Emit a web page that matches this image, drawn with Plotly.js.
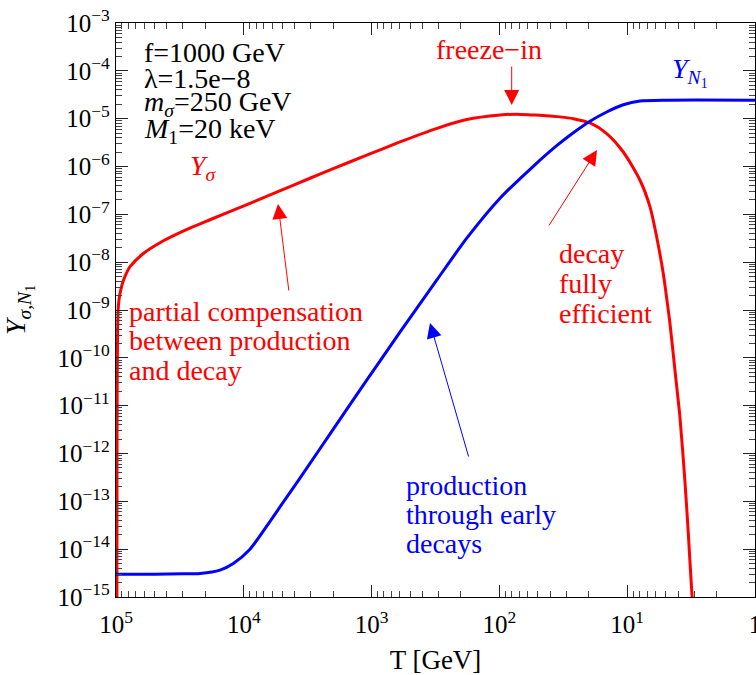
<!DOCTYPE html>
<html>
<head>
<meta charset="utf-8">
<script src="https://cdn.plot.ly/plotly-3.0.1.min.js"></script>
<style>html,body{margin:0;padding:0;background:#fff;}#chart{width:756px;height:675px;}</style>
</head>
<body>
<div id="chart"></div>
<script>
// ---- data ----
const T_sigma = [98400, 98220, 97860, 97160, 95940, 93890, 90250, 87680, 82480, 77700, 61150, 45270, 33500, 24850, 18390, 10090, 5527, 3034, 1995, 1092, 600, 329, 180, 98.9, 73.2, 54.3, 48.2, 33.6, 26.4, 19.55, 14.47, 10.73, 7.94, 6.63, 5.88, 5.22, 4.91, 4.63, 4.23, 3.86, 3.53, 3.33, 3.13, 3.0];
const Y_sigma = [3.16e-16, 7.2e-13, 3.41e-11, 3.78e-10, 1.15e-9, 1.94e-9, 3.14e-9, 4.09e-9, 6.03e-9, 8.03e-9, 1.52e-8, 2.55e-8, 3.84e-8, 5.51e-8, 7.71e-8, 1.49e-7, 2.90e-7, 5.68e-7, 9.06e-7, 1.72e-6, 3.26e-6, 5.92e-6, 9.57e-6, 1.19e-5, 1.24e-5, 1.19e-5, 1.18e-5, 1.09e-5, 1.00e-5, 8.13e-6, 4.89e-6, 2.01e-6, 5.16e-7, 1.43e-7, 3.37e-8, 5.79e-9, 1.77e-9, 5.30e-10, 5.52e-11, 5.48e-12, 2.52e-13, 2.27e-14, 1.39e-15, 3.16e-16];

const T_N1 = [100000, 50000, 30000, 22010, 15360, 12080, 8944, 6619, 4909, 3634, 1994, 1092, 600, 309.6, 180, 98.9, 54.3, 35.6, 26.4, 19.55, 14.47, 10.73, 7.94, 4.91, 1];
const Y_N1 = [3.0e-15, 3.0e-15, 3.05e-15, 3.11e-15, 3.65e-15, 5.04e-15, 1.0e-14, 3.03e-14, 9.62e-14, 3.05e-13, 3.23e-12, 3.41e-11, 3.44e-10, 4.20e-9, 3.17e-8, 2.17e-7, 1.01e-6, 2.72e-6, 5.07e-6, 8.83e-6, 1.38e-5, 1.95e-5, 2.33e-5, 2.43e-5, 2.43e-5];

const xTickVals = [1e5, 1e4, 1e3, 1e2, 1e1, 1];
const xTickText = ['10<sup>5</sup>', '10<sup>4</sup>', '10<sup>3</sup>', '10<sup>2</sup>', '10<sup>1</sup>', '1'];
const yTickVals = [1e-3, 1e-4, 1e-5, 1e-6, 1e-7, 1e-8, 1e-9, 1e-10, 1e-11, 1e-12, 1e-13, 1e-14, 1e-15];
const yTickText = ['10<sup>−3</sup>', '10<sup>−4</sup>', '10<sup>−5</sup>', '10<sup>−6</sup>', '10<sup>−7</sup>', '10<sup>−8</sup>', '10<sup>−9</sup>', '10<sup>−10</sup>', '10<sup>−11</sup>', '10<sup>−12</sup>', '10<sup>−13</sup>', '10<sup>−14</sup>', '10<sup>−15</sup>'];

const paramLines = ['f=1000 GeV', 'λ=1.5e−8', '<i>m</i><sub><i>σ</i></sub>=250 GeV', '<i>M</i><sub>1</sub>=20 keV'];
const redNoteLines = ['partial compensation', 'between production', 'and decay'];
const decayLines = ['decay', 'fully', 'efficient'];
const blueNoteLines = ['production', 'through early', 'decays'];

// ---- minor tick positions (axis decoration) ----
function minorTicks(kFrom, kTo) {
  const v = [];
  for (let k = kFrom; k <= kTo; k++) for (let d = 2; d <= 9; d++) v.push(d * Math.pow(10, k));
  return v;
}

// ---- layout helpers: pixel -> paper ----
const W = 756, H = 675, ML = 116, MR = 1, MT = 23, MB = 78;
const PW = W - ML - MR, PH = H - MT - MB;
const px = x => (x - ML) / PW;
const py = y => (H - MB - y) / PH;

const RED = '#ff0000', BLUE = '#0000ff';
const FONT = 'Liberation Serif';

const annotations = [];
function txt(text, x, y, color, size, xanchor) {
  annotations.push({text: text, xref: 'paper', yref: 'paper', x: px(x), y: py(y),
    xanchor: xanchor || 'left', yanchor: 'middle', showarrow: false,
    font: {family: FONT, size: size || 28, color: color}});
}
function arrow(tipX, tipY, tailX, tailY, color) {
  annotations.push({text: '', xref: 'paper', yref: 'paper', x: px(tipX), y: py(tipY),
    ax: tailX - tipX, ay: tailY - tipY, showarrow: true, arrowhead: 2, arrowsize: 3,
    arrowwidth: 1, arrowcolor: color, standoff: 0, startstandoff: 0});
}

paramLines.forEach((t, i) => txt(t, 142, [52, 78, 104, 130][i], 'black', 28));
redNoteLines.forEach((t, i) => txt(t, 127, [311, 340, 370][i], RED, 28));
decayLines.forEach((t, i) => txt(t, 557, [253, 283, 313][i], RED, 28));
blueNoteLines.forEach((t, i) => txt(t, 404, [485, 514, 543][i], BLUE, 28));
txt('freeze−in', 489, 50, RED, 28, 'center');
txt('<i>Y</i><sub><i>σ</i></sub>', 203, 167, RED, 28, 'center');
txt('<i>Y</i><sub><i>N</i><sub>1</sub></sub>', 690, 72, BLUE, 28, 'center');

arrow(511.7, 105, 511.7, 65, RED);
arrow(278, 204, 289, 292, RED);
arrow(597, 150, 548, 227, RED);
arrow(430, 323, 469, 458, BLUE);

const axisCommon = {
  type: 'log', tickmode: 'array', ticks: 'inside', ticklen: 12, tickwidth: 1, tickcolor: '#222',
  showline: true, linecolor: 'black', linewidth: 1.2, mirror: 'allticks',
  showgrid: false, zeroline: false, ticklabeloverflow: 'allow',
  tickfont: {family: FONT, size: 25, color: 'black'}
};

const layout = {
  width: W, height: H,
  margin: {l: ML, r: MR, t: MT, b: MB},
  paper_bgcolor: 'white', plot_bgcolor: 'white',
  showlegend: false,
  font: {family: FONT, color: 'black'},
  xaxis: Object.assign({}, axisCommon, {
    range: [5, 0], autorange: false,
    tickvals: xTickVals, ticktext: xTickText, ticklabelstandoff: 5,
    minor: {tickmode: 'array', tickvals: minorTicks(0, 4), ticks: 'inside', ticklen: 6, tickwidth: 1, tickcolor: '#444', showgrid: false},
    title: {text: 'T [GeV]', font: {family: FONT, size: 27, color: 'black'}, standoff: 40}
  }),
  yaxis: Object.assign({}, axisCommon, {
    range: [-15, -3], autorange: false,
    tickvals: yTickVals, ticktext: yTickText,
    minor: {tickmode: 'array', tickvals: minorTicks(-15, -4), ticks: 'inside', ticklen: 6, tickwidth: 1, tickcolor: '#444', showgrid: false},
    title: {text: '<i>Y</i><sub><i>σ</i>,<i>N</i><sub>1</sub></sub>', font: {family: FONT, size: 28, color: 'black'}, standoff: 24}
  }),
  annotations: annotations
};

const traces = [
  {x: T_sigma, y: Y_sigma, type: 'scatter', mode: 'lines', name: 'Y_sigma', line: {color: RED, width: 3, shape: 'spline', smoothing: 0.7}},
  {x: T_N1, y: Y_N1, type: 'scatter', mode: 'lines', name: 'Y_N1', line: {color: BLUE, width: 3, shape: 'spline', smoothing: 0.7}}
];

Plotly.newPlot('chart', traces, layout, {displayModeBar: false, staticPlot: true});
</script>
</body>
</html>
